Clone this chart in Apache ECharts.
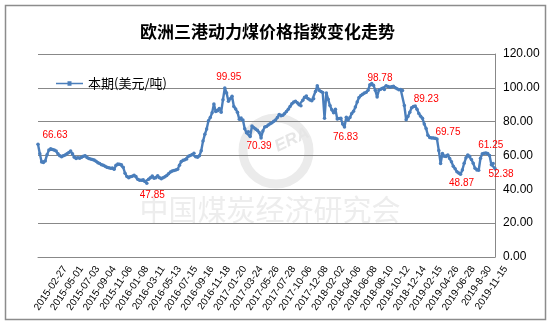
<!DOCTYPE html>
<html>
<head>
<meta charset="utf-8">
<script src="https://cdn.jsdelivr.net/npm/echarts@6.0.0/dist/echarts.min.js"></script>
<style>
  html, body { margin: 0; padding: 0; background: #fff; }
  #chart { width: 551px; height: 327px; }
</style>
</head>
<body>
<div id="chart"></div>
<script>
// Weekly steam coal price index, three European ports (USD/t)
const seriesName = '本期(美元/吨)';

const tickLabels = [
  '2015-02-27', '2015-05-01', '2015-07-03', '2015-09-04', '2015-11-06',
  '2016-01-08', '2016-03-11', '2016-05-13', '2016-07-15', '2016-09-16',
  '2016-11-18', '2017-01-20', '2017-03-24', '2017-05-26', '2017-07-28',
  '2017-10-06', '2017-12-08', '2018-02-02', '2018-04-06', '2018-06-08',
  '2018-08-10', '2018-10-12', '2018-12-14', '2019-02-15', '2019-04-26',
  '2019-06-28', '2019-8-30', '2019-11-15'
];

const prices = [
  66.63, 61.0, 56.2, 55.8, 56.8, 60.5, 63.2, 64.0, 63.5, 63.3,
  62.6, 61.0, 59.8, 59.2, 59.8, 60.3, 61.0, 61.8, 62.6, 61.0,
  59.0, 58.2, 58.6, 58.4, 58.9, 59.6, 59.9, 58.8, 58.2, 58.0,
  57.6, 57.3, 56.6, 55.7, 55.2, 54.6, 54.2, 53.6, 53.0, 52.8,
  52.5, 52.6, 51.8, 54.2, 55.0, 54.8, 54.6, 53.0, 49.5, 47.6,
  46.8, 47.5, 47.8, 48.3, 47.6, 45.9, 45.3, 45.4, 45.7, 44.6,
  43.6, 46.0, 46.8, 47.85, 46.6, 46.8, 48.0, 46.8, 46.2, 46.9,
  47.5, 48.2, 49.2, 50.2, 50.8, 51.2, 51.4, 51.8, 54.3, 56.4,
  57.2, 57.5, 58.0, 59.6, 60.0, 60.6, 61.4, 59.2, 59.0, 59.8,
  62.8, 68.5, 72.5, 75.6, 80.5, 82.5, 85.2, 90.5, 86.0, 86.5,
  87.8, 85.6, 93.0, 99.95, 97.0, 92.0, 93.5, 95.0, 89.0, 87.5,
  85.5, 81.5, 82.2, 81.0, 75.8, 73.4, 74.0, 71.2, 77.5, 76.4,
  75.6, 75.0, 73.6, 70.39, 74.5, 76.8, 77.2, 78.0, 78.8, 79.4,
  80.2, 81.0, 82.5, 84.2, 83.5, 83.8, 84.8, 86.0, 87.3, 89.0,
  90.6, 91.6, 92.0, 91.2, 90.0, 89.4, 92.6, 94.5, 95.2, 93.6,
  92.8, 92.4, 93.5, 97.8, 101.2, 98.6, 97.8, 97.3, 82.0, 97.0,
  93.2, 89.5, 87.0, 85.2, 87.4, 81.6, 81.9, 82.0, 78.6, 76.83,
  82.6, 81.0, 82.4, 84.8, 86.2, 88.6, 91.6, 94.3, 95.4, 96.2,
  97.0, 97.4, 98.6, 101.8, 102.6, 101.6, 98.5, 94.6, 98.78, 99.2,
  99.8, 99.0, 101.2, 100.8, 100.4, 100.6, 101.0, 100.0, 99.4, 98.8,
  99.0, 98.4, 89.5, 81.2, 83.0, 85.5, 88.2, 89.0, 89.23, 87.4,
  84.8, 83.2, 82.0, 78.6, 76.0, 72.0, 70.6, 70.3, 70.4, 70.2,
  69.75, 63.0, 55.3, 61.2, 59.6, 59.4, 60.3, 58.2, 56.3, 53.6,
  52.2, 50.4, 49.6, 48.87, 51.5, 55.4, 58.6, 60.3, 59.6, 57.6,
  55.4, 52.4, 51.4, 51.3, 58.4, 61.0, 61.4, 61.5, 61.25, 60.0,
  54.6, 55.2, 52.38
];

// points whose value is printed next to the line
const labelledPoints = [0, 63, 103, 123, 169, 188, 208, 220, 233, 248, 252];

// label placement for each printed point
const labelPlacement = {
  0:   { position: 'top',    offset: [17, 3] },
  63:  { position: 'bottom', offset: [0, 7] },
  103: { position: 'top',    offset: [4, 1] },
  123: { position: 'bottom', offset: [-2, -3] },
  169: { position: 'bottom', offset: [1, -2] },
  188: { position: 'top',    offset: [1, 0] },
  208: { position: 'top',    offset: [11, 5] },
  220: { position: 'top',    offset: [11, 5] },
  233: { position: 'bottom', offset: [1, -3] },
  248: { position: 'top',    offset: [3, 4] },
  252: { position: 'bottom', offset: [6, -6] }
};

const TICK_STEP = 9;
const categories = prices.map((_, i) => (i % TICK_STEP === 0 ? (tickLabels[i / TICK_STEP] || '') : ''));

const seriesData = prices.map((v, i) => {
  if (labelledPoints.indexOf(i) < 0) return v;
  const p = labelPlacement[i];
  return {
    value: v,
    label: {
      show: true,
      position: p.position,
      offset: p.offset,
      formatter: (d) => d.value.toFixed(2)
    }
  };
});

const chart = echarts.init(document.getElementById('chart'), null, { renderer: 'canvas' });

const gridTop = 54, gridBottom = 70, gridLeft = 38, gridRight = 56;
const labelShift = 27;

chart.setOption({
  animation: false,
  backgroundColor: '#fff',
  textStyle: { fontFamily: 'Liberation Sans, Arial, sans-serif' },
  graphic: [
    {
      type: 'rect', z: -5, silent: true,
      shape: { x: 5.5, y: 5.5, width: 540, height: 314 },
      style: { fill: '#fff', stroke: '#8c8c8c', lineWidth: 1.5 }
    },
    {
      type: 'circle', z: -4, silent: true,
      shape: { cx: 276, cy: 151, r: 33 },
      style: { fill: 'none', stroke: '#ebebeb', lineWidth: 9 }
    },
    {
      type: 'text', z: -4, silent: true,
      x: 292, y: 140, rotation: Math.PI / 7,
      style: {
        text: 'ERA', fill: '#e6e6e6', font: 'italic bold 17px "Liberation Sans", Arial, sans-serif',
        align: 'center', verticalAlign: 'middle'
      }
    },
    {
      type: 'text', z: -4, silent: true,
      x: 270, y: 210,
      style: {
        text: '中国煤炭经济研究会', fill: '#ededed',
        font: '29px "Noto Sans CJK SC", sans-serif',
        align: 'center', verticalAlign: 'middle'
      }
    },
    {
      type: 'text', z: 10,
      x: 267.5, y: 32,
      style: {
        text: '欧洲三港动力煤价格指数变化走势', fill: '#000',
        font: 'bold 17px "Noto Sans CJK SC", sans-serif',
        align: 'center', verticalAlign: 'middle'
      }
    }
  ],
  legend: {
    data: [{
      name: seriesName,
      icon: 'path://M0,4.2 L27,4.2 L27,5.8 L0,5.8 Z M11.5,2.8 L15.5,2.8 L15.5,7.2 L11.5,7.2 Z'
    }],
    left: 51,
    top: 72,
    itemWidth: 27,
    itemHeight: 10,
    itemStyle: { color: '#4a7ebb' },
    textStyle: { fontSize: 13, color: '#000', fontFamily: '"Noto Sans CJK SC", sans-serif' }
  },
  grid: [
    { left: gridLeft, right: gridRight, top: gridTop, bottom: gridBottom, containLabel: false },
    { left: gridLeft + labelShift, right: gridRight - labelShift, top: gridTop, bottom: gridBottom, containLabel: false }
  ],
  xAxis: [
    {
      type: 'category', gridIndex: 0, data: categories, boundaryGap: false,
      axisLine: { show: true, lineStyle: { color: '#888', width: 1 } },
      axisTick: { show: false },
      axisLabel: { show: false },
      splitLine: { show: false }
    },
    {
      type: 'category', gridIndex: 1, data: categories, boundaryGap: false,
      axisLine: { show: false },
      axisTick: { show: false },
      splitLine: { show: false },
      axisLabel: {
        interval: TICK_STEP - 1, rotate: 56, margin: 10, hideOverlap: false,
        fontSize: 10, color: '#000', fontFamily: 'Liberation Sans, Arial, sans-serif'
      }
    }
  ],
  yAxis: [
    {
      type: 'value', gridIndex: 0, position: 'right', min: 0, max: 120, interval: 20,
      axisLine: { show: true, lineStyle: { color: '#888', width: 1 } },
      axisTick: { show: false },
      splitLine: { show: true, lineStyle: { color: '#888', width: 1 } },
      axisLabel: {
        margin: 8, fontSize: 12, color: '#000',
        formatter: (v) => v.toFixed(2)
      }
    },
    { type: 'value', gridIndex: 1, show: false, min: 0, max: 120 }
  ],
  series: [
    {
      name: seriesName,
      type: 'line',
      xAxisIndex: 0, yAxisIndex: 0,
      data: seriesData,
      symbol: 'circle',
      symbolSize: 3.5,
      showAllSymbol: true,
      lineStyle: { color: '#4a7ebb', width: 2.4 },
      itemStyle: { color: '#4a7ebb', borderWidth: 0 },
      label: { show: false, color: '#ff0000', fontSize: 10, fontFamily: 'Liberation Sans, Arial, sans-serif' },
      emphasis: { disabled: true }
    }
  ]
});
</script>
</body>
</html>
